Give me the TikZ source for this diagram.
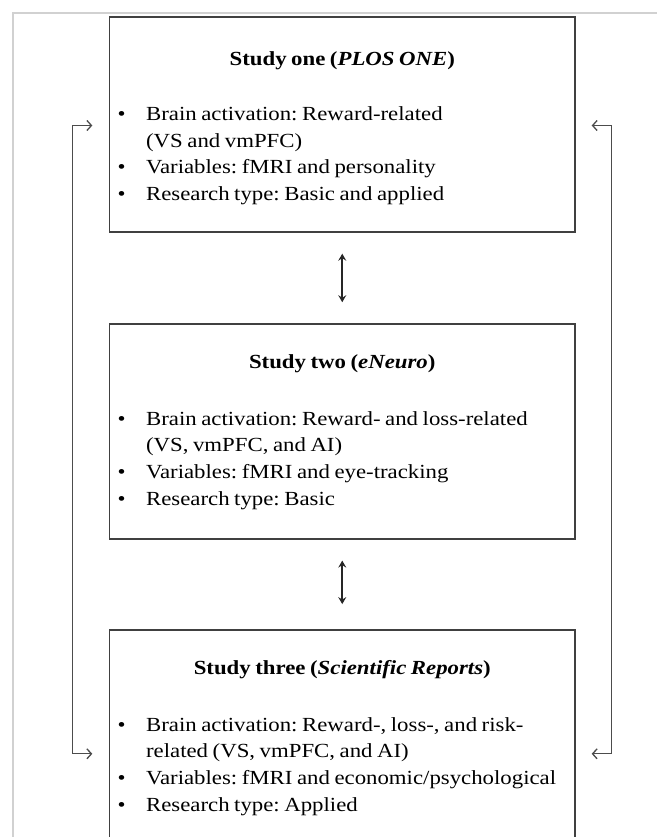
\documentclass[tikz,border=0pt]{standalone}
\usepackage{fontspec}
\setmainfont{Liberation Serif}[FakeStretch=1.14, WordSpace=0.8]
\usepackage{tikz}
\usetikzlibrary{arrows.meta, positioning}
\frenchspacing

\newcommand{\bul}{\makebox[28.6pt][l]{\textbullet}}
\newcommand{\cont}{\hspace*{28.6pt}}

\tikzset{
    studybox/.style={draw=black!75, line width=1.4pt, minimum width=465.5pt, minimum height=215pt, inner sep=0pt},
    studytitle/.style={font=\fontsize{20}{26.7}\selectfont\bfseries, inner sep=0pt},
    studylist/.style={font=\fontsize{20}{26.7}\selectfont, align=left, inner sep=0pt, anchor=north west},
    link/.style={draw=black!70, line width=1.3pt, {Straight Barb[length=4.5pt, width=10pt]}-{Straight Barb[length=4.5pt, width=10pt]}},
    swap/.style={draw=black!85, line width=1.6pt, {Stealth[length=7pt, width=8pt, inset=2.5pt]}-{Stealth[length=7pt, width=8pt, inset=2.5pt]}}
}

\begin{document}
\begin{tikzpicture}[x=1pt, y=-1pt]
    \clip (0,0) rectangle (657,837);
    \fill[white] (0,0) rectangle (657,837);

    % Outer frame
    \draw[black!18, line width=1.5pt] (13,837) -- (13,13) -- (657,13);

    % Study boxes
    \node[studybox] (one) at (342.25,124.5) {};
    \node[studybox, below=90.5pt of one] (two) {};
    \node[studybox, below=89.5pt of two] (three) {};

    % Study one
    \node[studytitle] (one-title) at ([yshift=-44pt]one.north) {Study one (\textit{PLOS ONE})};
    \node[studylist] (one-list) at ([xshift=8.5pt, yshift=-90pt]one.north west)
        {\bul Brain activation: Reward-related\\
         \cont(VS and vmPFC)\\
         \bul Variables: fMRI and personality\\
         \bul Research type: Basic and applied};

    % Study two
    \node[studytitle] (two-title) at ([yshift=-41pt]two.north) {Study two (\textit{eNeuro})};
    \node[studylist] (two-list) at ([xshift=8.5pt, yshift=-88pt]two.north west)
        {\bul Brain activation: Reward- and loss-related\\
         \cont(VS, vmPFC, and AI)\\
         \bul Variables: fMRI and eye-tracking\\
         \bul Research type: Basic};

    % Study three
    \node[studytitle] (three-title) at ([yshift=-41pt]three.north) {Study three (\textit{Scientific Reports})};
    \node[studylist] (three-list) at ([xshift=8.5pt, yshift=-88pt]three.north west)
        {\bul Brain activation: Reward-, loss-, and risk-\\
         \cont related (VS, vmPFC, and AI)\\
         \bul Variables: fMRI and economic/psychological\\
         \bul Research type: Applied};

    % Links between neighbouring studies
    \draw[swap] ([yshift=-21pt]one.south) -- ([yshift=21pt]two.north);
    \draw[swap] ([yshift=-21pt]two.south) -- ([yshift=25pt]three.north);

    % Link between study one and study three
    \coordinate (one-w) at ([xshift=-16.5pt, yshift=-1pt]one.west);
    \coordinate (three-w) at ([xshift=-16.5pt, yshift=-16.5pt]three.west);
    \coordinate (one-e) at ([xshift=16pt, yshift=-1pt]one.east);
    \coordinate (three-e) at ([xshift=16pt, yshift=-16.5pt]three.east);
    \draw[link] (one-w) -- ++(-20,0) |- (three-w);
    \draw[link] (one-e) -- ++(20,0) |- (three-e);
\end{tikzpicture}
\end{document}
